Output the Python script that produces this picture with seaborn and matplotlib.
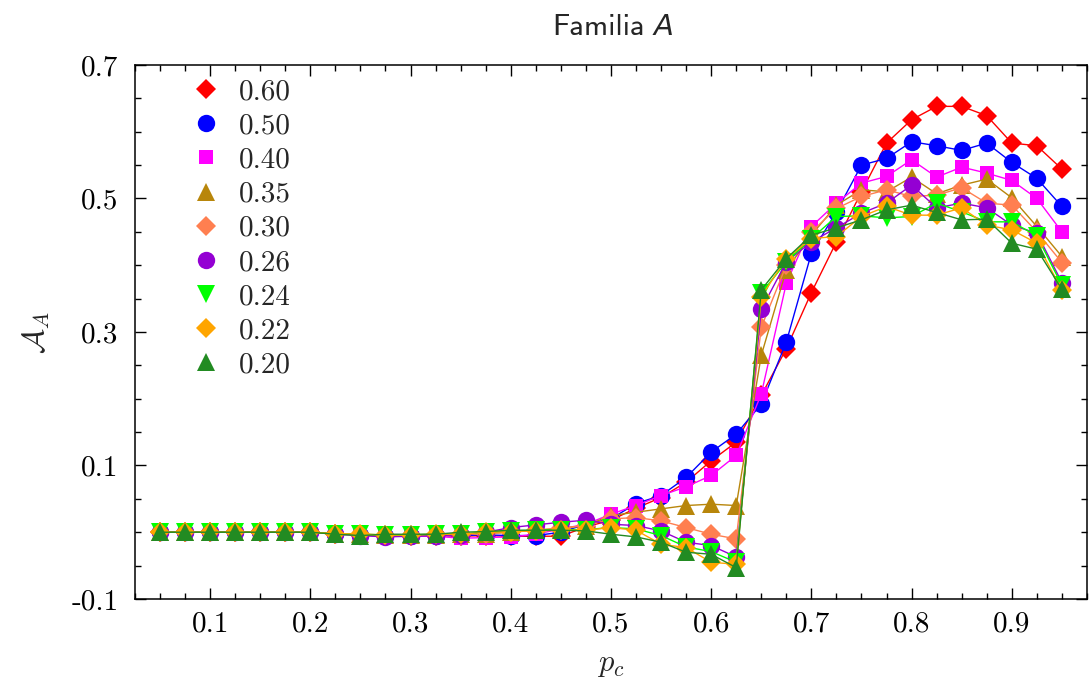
import matplotlib
matplotlib.use('Agg')
import matplotlib.pyplot as plt
import seaborn as sns
from matplotlib.lines import Line2D
from matplotlib.ticker import MultipleLocator, FormatStrFormatter

# p_c values
p_c = [0.05, 0.075, 0.1, 0.125, 0.15, 0.175, 0.2, 0.225, 0.25, 0.275, 0.3, 0.325,
       0.35, 0.375, 0.4, 0.425, 0.45, 0.475, 0.5, 0.525, 0.55, 0.575, 0.6, 0.625,
       0.65, 0.675, 0.7, 0.725, 0.75, 0.775, 0.8, 0.825, 0.85, 0.875, 0.9, 0.925, 0.95]

# series
a_060 = [0, 0, 0, 0, 0, 0, 0, -0.002, -0.004, -0.006, -0.006, -0.005, -0.006, -0.005,
         -0.006, -0.006, -0.006, 0.008, 0.018, 0.036, 0.052, 0.075, 0.107, 0.135,
         0.205, 0.275, 0.359, 0.435, 0.51, 0.583, 0.618, 0.638, 0.638, 0.624, 0.583, 0.579, 0.544]
a_050 = [0, 0, 0, 0, 0, 0, 0, -0.002, -0.004, -0.005, -0.006, -0.005, -0.005, -0.004,
         -0.005, -0.005, 0.0, 0.012, 0.02, 0.043, 0.055, 0.082, 0.120, 0.147,
         0.192, 0.285, 0.418, 0.48, 0.550, 0.560, 0.585, 0.579, 0.572, 0.583, 0.554, 0.530, 0.488]
a_040 = [0, 0, 0, 0, 0, 0, 0, -0.002, -0.004, -0.006, -0.006, -0.006, -0.009, -0.008,
         -0.007, -0.003, 0.005, 0.012, 0.027, 0.040, 0.055, 0.068, 0.085, 0.115,
         0.207, 0.373, 0.458, 0.493, 0.523, 0.533, 0.558, 0.532, 0.547, 0.538, 0.527, 0.500, 0.450]
a_035 = [0, 0, 0, 0, 0, 0, 0, -0.002, -0.003, -0.004, -0.004, -0.004, -0.003, -0.002,
         0.0, 0.003, 0.006, 0.01, 0.025, 0.030, 0.035, 0.040, 0.042, 0.040,
         0.265, 0.393, 0.445, 0.490, 0.513, 0.51, 0.532, 0.507, 0.520, 0.529, 0.501, 0.458, 0.413]
a_030 = [0, 0, 0, 0, 0, 0, 0, -0.002, -0.004, -0.005, -0.005, -0.004, -0.004, -0.002,
         0.0, 0.003, 0.006, 0.01, 0.020, 0.022, 0.017, 0.007, -0.003, -0.010,
         0.307, 0.400, 0.45, 0.485, 0.503, 0.513, 0.503, 0.505, 0.516, 0.493, 0.490, 0.450, 0.404]
a_026 = [0, 0, 0, 0, 0, 0, 0, -0.003, -0.005, -0.007, -0.006, -0.005, -0.004, 0.0,
         0.007, 0.011, 0.015, 0.018, 0.012, 0.010, 0.002, -0.015, -0.020, -0.037,
         0.334, 0.405, 0.435, 0.456, 0.478, 0.493, 0.520, 0.486, 0.493, 0.486, 0.460, 0.448, 0.374]
a_024 = [0, 0, 0, 0, 0, 0, 0, -0.002, -0.003, -0.004, -0.004, -0.003, -0.003, 0.0,
         0.002, 0.003, 0.004, 0.004, 0.007, 0.005, -0.005, -0.022, -0.029, -0.045,
         0.358, 0.405, 0.44, 0.473, 0.474, 0.471, 0.473, 0.493, 0.48, 0.465, 0.465, 0.444, 0.370]
a_022 = [0, 0, 0, 0, 0, 0, 0, -0.002, -0.003, -0.004, -0.004, -0.003, -0.003, 0.0,
         0.001, 0.002, 0.003, 0.003, 0.007, 0.003, -0.018, -0.023, -0.045, -0.048,
         0.353, 0.41, 0.44, 0.443, 0.473, 0.488, 0.475, 0.475, 0.486, 0.460, 0.453, 0.433, 0.363]
a_020 = [0, 0, 0, 0, 0, 0, 0, -0.003, -0.005, -0.003, -0.003, -0.003, 0.0, 0.001,
         0.003, 0.003, 0.003, 0.002, -0.003, -0.007, -0.015, -0.030, -0.033, -0.053,
         0.363, 0.41, 0.445, 0.456, 0.468, 0.483, 0.490, 0.479, 0.468, 0.469, 0.433, 0.424, 0.364]

labels = ['0.60', '0.50', '0.40', '0.35', '0.30', '0.26', '0.24', '0.22', '0.20']
series = [a_060, a_050, a_040, a_035, a_030, a_026, a_024, a_022, a_020]
colors = ['#ff0000', '#0000ff', '#ff00ff', '#b8860b', '#ff7f50',
          '#9400d3', '#00ff00', '#ffa500', '#228b22']
markers = ['D', 'o', 's', '^', 'D', 'o', 'v', 'D', '^']
sizes = {'D': 10, 'o': 12.5, 's': 10.5, '^': 12.5, 'v': 12.5}

sns.set_style('ticks')
plt.rcParams['font.family'] = ['cmr10', 'DejaVu Serif']
plt.rcParams['mathtext.fontset'] = 'cm'
plt.rcParams['axes.unicode_minus'] = False
plt.rcParams['axes.formatter.use_mathtext'] = True

fig = plt.figure(figsize=(10.91, 6.84), dpi=100)
ax = fig.add_axes([0.1237, 0.1243, 0.8726, 0.7807])

for lab, vals, col, mk in zip(labels, series, colors, markers):
    sns.lineplot(x=p_c, y=vals, ax=ax, color=col, marker=mk, markersize=sizes[mk],
                 markeredgewidth=0, linewidth=1.0, legend=False)

ax.set_xlim(0.025, 0.975)
ax.set_ylim(-0.1, 0.7)
ax.xaxis.set_minor_locator(MultipleLocator(0.025))
ax.yaxis.set_minor_locator(MultipleLocator(0.05))
ax.xaxis.set_major_formatter(FormatStrFormatter('%.1f'))
ax.yaxis.set_major_formatter(FormatStrFormatter('%.1f'))
ax.set_xticks([0.1, 0.2, 0.3, 0.4, 0.5, 0.6, 0.7, 0.8, 0.9])
ax.set_yticks([-0.1, 0.1, 0.3, 0.5, 0.7])

for s in ax.spines.values():
    s.set_visible(True)
    s.set_linewidth(1.1)
    s.set_color('black')
ax.tick_params(which='both', direction='in', top=True, right=True, colors='black',
               labelsize=21)
ax.tick_params(which='major', length=8, width=1.0)
ax.tick_params(which='minor', length=4, width=1.0)
ax.tick_params(axis='y', pad=12)
ax.tick_params(axis='x', pad=9)

ax.set_xlabel(r'$p_c$', fontsize=22, labelpad=10)
ax.set_ylabel(r'$\mathcal{A}_A$', fontsize=22, labelpad=14)

# title: upright sans "Familia" plus italic "A"
ax.text(0.536, 1.056, 'Familia', transform=ax.transAxes, ha='right', va='baseline',
        fontsize=22, family='cmss10')
ax.text(0.5445, 1.056, 'A', transform=ax.transAxes, ha='left', va='baseline',
        fontsize=21, family='DejaVu Sans', style='italic')

handles = [Line2D([], [], color=c, marker=m, linestyle='none', markersize=sizes[m],
                  markeredgewidth=0) for c, m in zip(colors, markers)]
ax.legend(handles, labels, loc='upper left', bbox_to_anchor=(0.0345, 1.012),
          frameon=False, fontsize=21, handletextpad=0.55, labelspacing=0.265,
          borderpad=0.2, handlelength=1.2)

fig.savefig('out.png', dpi=100)
